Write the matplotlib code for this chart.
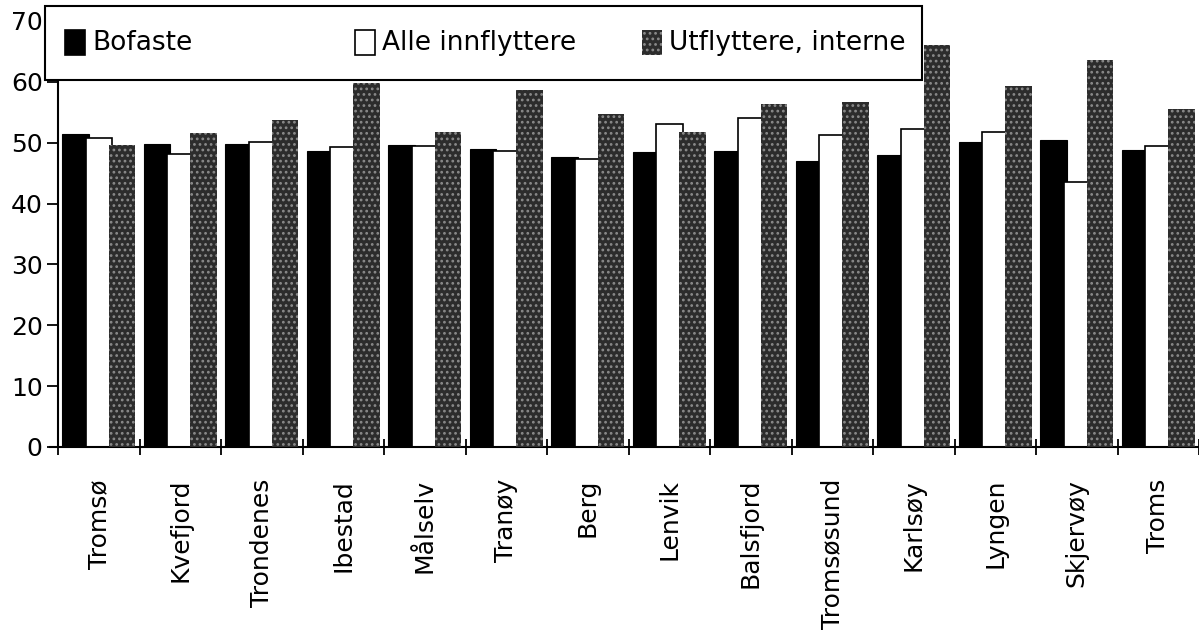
import numpy as np
import matplotlib
matplotlib.use('Agg')
import matplotlib.pyplot as plt
from matplotlib.patches import Rectangle

plt.rcParams['font.family'] = ['DejaVu Sans']
plt.rcParams['font.size'] = 17
plt.rcParams['hatch.linewidth'] = 1.2

# data
kommuner = ['Tromsø', 'Kvefjord', 'Trondenes', 'Ibestad', 'Målselv', 'Tranøy', 'Berg',
            'Lenvik', 'Balsfjord', 'Tromsøsund', 'Karlsøy', 'Lyngen', 'Skjervøy', 'Troms']
bofaste = [51.4, 49.8, 49.8, 48.7, 49.7, 49.0, 47.7, 48.4, 48.7, 47.0, 48.0, 50.1, 50.5, 48.8]
innflyttere = [50.7, 48.1, 50.1, 49.3, 49.5, 48.7, 47.4, 53.0, 54.0, 51.2, 52.3, 51.8, 43.6, 49.4]
utflyttere = [49.7, 51.6, 53.8, 59.8, 51.8, 58.6, 54.8, 51.8, 56.3, 56.7, 66.0, 59.3, 63.6, 55.5]
series_names = ['Bofaste', 'Alle innflyttere', 'Utflyttere, interne']

W, H = 1199, 630
fig = plt.figure(figsize=(W / 100, H / 100), dpi=100)
ax = fig.add_axes([58 / W, 1 - 447 / H, 1 - 58 / W, (447 - 21) / H])

x = np.arange(len(kommuner))
bw = 0.325
ax.bar(x - 0.285, bofaste, bw, color='black', edgecolor='black', linewidth=0.8, zorder=2)
ax.bar(x + 0.005, innflyttere, bw, color='white', edgecolor='black', linewidth=1.2, zorder=2)
ax.bar(x + 0.285, utflyttere, bw, color='#2c2c2c', edgecolor='#8a8a8a', linewidth=0,
       hatch='...', zorder=3)

ax.set_xlim(-0.5, len(kommuner) - 0.5)
ax.set_ylim(0, 70)

# spines
for s in ['top', 'right']:
    ax.spines[s].set_visible(False)
ax.spines['left'].set_linewidth(1.5)
ax.spines['bottom'].set_linewidth(1.5)
ax.spines['bottom'].set_bounds(-0.6, len(kommuner) - 0.5)

# ticks
ax.set_yticks(np.arange(0, 71, 10))
ax.tick_params(axis='y', direction='out', length=8, width=1.3, pad=3, labelsize=18)
ax.set_xticks(np.arange(len(kommuner) + 1) - 0.5)
ax.set_xticklabels([])
ax.tick_params(axis='x', which='major', direction='inout', length=12, width=1.3)
ax.set_xticks(x, minor=True)
ax.set_xticklabels(kommuner, minor=True, rotation=90, fontsize=18)
ax.tick_params(axis='x', which='minor', length=0, pad=23)

# legend box, drawn by hand to match the uneven spacing
def fx(px):
    return px / W

def fy(py):
    return 1 - py / H

frame = Rectangle((fx(45), fy(80)), fx(922) - fx(45), fy(6) - fy(80),
                  transform=fig.transFigure, facecolor='white', edgecolor='black',
                  linewidth=1.5, zorder=10)
fig.add_artist(frame)

handles = [(65, dict(facecolor='black', edgecolor='black')),
           (355, dict(facecolor='white', edgecolor='black')),
           (642, dict(facecolor='#2c2c2c', edgecolor='#8a8a8a', hatch='...', linewidth=0))]
for (hx, style), name in zip(handles, series_names):
    kw = dict(linewidth=1.2)
    kw.update(style)
    fig.add_artist(Rectangle((fx(hx), fy(55)), fx(20), fy(30) - fy(55),
                             transform=fig.transFigure, zorder=11, **kw))
    fig.text(fx(hx + 27), fy(43), name, fontsize=19, va='center', ha='left', zorder=12)

fig.savefig('out.png', dpi=100, facecolor='white')
